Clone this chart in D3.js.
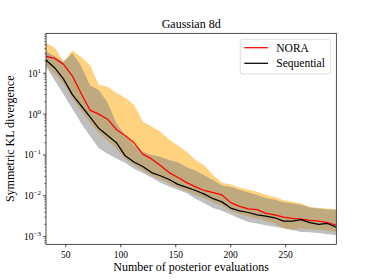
<!DOCTYPE html>
<html>
<head>
<meta charset="utf-8">
<script src="https://cdn.jsdelivr.net/npm/d3@7"></script>
<style>
  body { margin: 0; background: #fff; }
  text { font-family: "Liberation Serif", "DejaVu Serif", serif; fill: #000; }
</style>
</head>
<body>
<svg id="chart" width="374" height="280"></svg>
<script>
"use strict";

// number of posterior evaluations
const evals = [32, 40, 48, 56, 64, 72, 80, 88, 96, 104, 112, 120, 128, 136, 144, 152, 160,
  168, 176, 184, 192, 200, 208, 216, 224, 232, 240, 248, 256, 264, 272, 280, 288, 296];

// NORA: median and band
const noraMean = [26, 23, 16.5, 8.5, 3.2, 1.25, 1.0, 0.75, 0.42, 0.3, 0.2, 0.105, 0.08, 0.055,
  0.037, 0.028, 0.021, 0.0165, 0.0135, 0.012, 0.0105, 0.0068, 0.0055, 0.0048, 0.0046, 0.0037,
  0.0034, 0.003, 0.0028, 0.0027, 0.0025, 0.0024, 0.0022, 0.0019];
const noraLow = [16, 9.5, 5.5, 2.4, 1.2, 0.62, 0.35, 0.22, 0.14, 0.08, 0.056, 0.042, 0.031,
  0.025, 0.02, 0.016, 0.013, 0.0105, 0.0088, 0.007, 0.0058, 0.0042, 0.0036, 0.0031, 0.0028,
  0.0024, 0.0021, 0.0016, 0.00145, 0.0016, 0.0015, 0.0015, 0.0014, 0.0013];
const noraHigh = [56, 42, 19, 36, 25, 16, 5.2, 4.7, 3.3, 2.5, 1.7, 0.65, 0.5, 0.37, 0.24, 0.17,
  0.12, 0.075, 0.055, 0.032, 0.021, 0.019, 0.016, 0.014, 0.0125, 0.0105, 0.0093, 0.0078,
  0.0072, 0.0065, 0.0053, 0.005, 0.0049, 0.0047];

// Sequential: median and band
const seqMean = [21, 13.5, 7.2, 3.0, 1.6, 0.85, 0.45, 0.3, 0.2, 0.095, 0.067, 0.052, 0.037,
  0.031, 0.025, 0.019, 0.016, 0.0135, 0.011, 0.0085, 0.0071, 0.005, 0.0043, 0.0039, 0.0034,
  0.0032, 0.0029, 0.0024, 0.0024, 0.0026, 0.0022, 0.002, 0.0021, 0.0017];
const seqLow = [14.5, 6.6, 3.0, 1.35, 0.6, 0.29, 0.146, 0.107, 0.082, 0.064, 0.046, 0.036,
  0.028, 0.021, 0.017, 0.014, 0.0115, 0.0085, 0.0066, 0.005, 0.0043, 0.0035, 0.0028, 0.0023,
  0.0021, 0.0019, 0.00175, 0.0016, 0.00145, 0.0013, 0.00128, 0.00123, 0.00115, 0.0011];
const seqHigh = [34, 26, 19, 31, 15, 5, 3.9, 1.9, 0.6, 0.3, 0.176, 0.12, 0.1, 0.09, 0.075,
  0.066, 0.05, 0.041, 0.032, 0.024, 0.018, 0.0165, 0.014, 0.012, 0.0105, 0.0088, 0.008,
  0.007, 0.0065, 0.006, 0.0052, 0.0049, 0.0046, 0.0045];

const xTicks = [50, 100, 150, 200, 250];
const yTicks = [1e-3, 1e-2, 1e-1, 1e0, 1e1];

const series = [
  { label: 'NORA', mean: noraMean, low: noraLow, high: noraHigh, line: '#ff0000', band: '#ffa500' },
  { label: 'Sequential', mean: seqMean, low: seqLow, high: seqHigh, line: '#000000', band: '#808080' },
];

const plot = { left: 46, right: 336.3, top: 33.3, bottom: 244.3 };

const svg = d3.select('#chart');
svg.append('rect').attr('width', 374).attr('height', 280).attr('fill', '#fff');

const x = d3.scaleLinear().domain([32, 296]).range([plot.left, plot.right]);
const y = d3.scaleLog().domain([6.5e-4, 95]).range([plot.bottom, plot.top]);

svg.append('clipPath').attr('id', 'clip')
  .append('rect')
  .attr('x', plot.left).attr('y', plot.top)
  .attr('width', plot.right - plot.left).attr('height', plot.bottom - plot.top);

const body = svg.append('g').attr('clip-path', 'url(#clip)');

// bands first, then the median lines on top
series.forEach((s) => {
  const area = d3.area()
    .x((d, i) => x(evals[i]))
    .y0((d, i) => y(s.low[i]))
    .y1((d, i) => y(s.high[i]));
  body.append('path')
    .attr('d', area(evals))
    .attr('fill', s.band)
    .attr('fill-opacity', 0.5);
});

series.forEach((s) => {
  const line = d3.line()
    .x((d, i) => x(evals[i]))
    .y((d) => y(d));
  body.append('path')
    .attr('d', line(s.mean))
    .attr('fill', 'none')
    .attr('stroke', s.line)
    .attr('stroke-width', 1.25)
    .attr('stroke-linejoin', 'round');
});

// x axis ticks
const xAxis = svg.append('g');
xTicks.forEach((t) => {
  xAxis.append('line')
    .attr('x1', x(t)).attr('x2', x(t))
    .attr('y1', plot.bottom).attr('y2', plot.bottom + 3)
    .attr('stroke', '#000').attr('stroke-width', 0.7);
  xAxis.append('text')
    .attr('x', x(t)).attr('y', plot.bottom + 14)
    .attr('text-anchor', 'middle')
    .attr('font-size', 9.5)
    .text(t);
});

// y axis: decades with labels, minor ticks between
const yAxis = svg.append('g');
const [yMin, yMax] = y.domain();
for (let e = -4; e <= 2; e++) {
  for (let m = 1; m <= 9; m++) {
    const v = m * Math.pow(10, e);
    if (v < yMin || v > yMax) continue;
    yAxis.append('line')
      .attr('x1', plot.left).attr('x2', plot.left - (m === 1 ? 3 : 1.7))
      .attr('y1', y(v)).attr('y2', y(v))
      .attr('stroke', '#000').attr('stroke-width', m === 1 ? 0.7 : 0.55);
  }
}
yTicks.forEach((t) => {
  const exp = Math.round(Math.log10(t));
  const label = yAxis.append('text')
    .attr('x', plot.left - 5).attr('y', y(t) + 3.5)
    .attr('text-anchor', 'end')
    .attr('font-size', 9.5);
  label.append('tspan').text('10');
  label.append('tspan')
    .attr('dy', -4)
    .attr('font-size', 7)
    .text(exp < 0 ? '\u2212' + (-exp) : String(exp));
});

// spines
svg.append('rect')
  .attr('x', plot.left).attr('y', plot.top)
  .attr('width', plot.right - plot.left).attr('height', plot.bottom - plot.top)
  .attr('fill', 'none')
  .attr('stroke', '#000')
  .attr('stroke-width', 0.7);

// labels
svg.append('text')
  .attr('x', (plot.left + plot.right) / 2).attr('y', 28)
  .attr('text-anchor', 'middle')
  .attr('font-size', 12)
  .text('Gaussian 8d');

svg.append('text')
  .attr('x', (plot.left + plot.right) / 2).attr('y', 271)
  .attr('text-anchor', 'middle')
  .attr('font-size', 12)
  .text('Number of posterior evaluations');

svg.append('text')
  .attr('transform', `translate(14, ${(plot.top + plot.bottom) / 2}) rotate(-90)`)
  .attr('text-anchor', 'middle')
  .attr('font-size', 12)
  .text('Symmetric KL divergence');

// legend
const legend = svg.append('g').attr('transform', 'translate(240.3, 39.3)');
legend.append('rect')
  .attr('width', 90).attr('height', 34.7)
  .attr('rx', 2)
  .attr('fill', '#fff').attr('fill-opacity', 0.8)
  .attr('stroke', '#d6d6d6').attr('stroke-width', 0.8);

series.forEach((s, i) => {
  const ly = 8.4 + i * 15.6;
  legend.append('line')
    .attr('x1', 4).attr('x2', 27.7)
    .attr('y1', ly).attr('y2', ly)
    .attr('stroke', s.line).attr('stroke-width', 1.25);
  legend.append('text')
    .attr('x', 36).attr('y', ly + 4)
    .attr('font-size', 11.5)
    .text(s.label);
});
</script>
</body>
</html>
